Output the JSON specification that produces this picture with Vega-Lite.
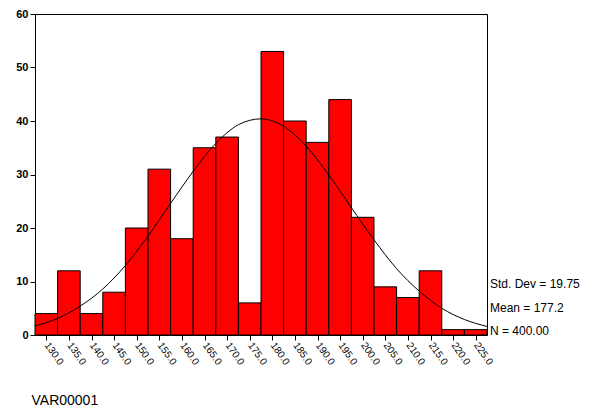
{
  "$schema": "https://vega.github.io/schema/vega-lite/v6.json",
  "width": 452,
  "height": 321,
  "autosize": "none",
  "padding": {"left": 35, "top": 14, "right": 112, "bottom": 75},
  "config": {
    "font": "Liberation Sans",
    "view": {"stroke": "black", "strokeWidth": 1},
    "axis": {"grid": false, "domainColor": "black", "tickColor": "black", "labelColor": "black", "labelFontSize": 11}
  },
  "datasets": {
    "bins": [
      {"lo": 127.5, "hi": 132.5, "count": 4},
      {"lo": 132.5, "hi": 137.5, "count": 12},
      {"lo": 137.5, "hi": 142.5, "count": 4},
      {"lo": 142.5, "hi": 147.5, "count": 8},
      {"lo": 147.5, "hi": 152.5, "count": 20},
      {"lo": 152.5, "hi": 157.5, "count": 31},
      {"lo": 157.5, "hi": 162.5, "count": 18},
      {"lo": 162.5, "hi": 167.5, "count": 35},
      {"lo": 167.5, "hi": 172.5, "count": 37},
      {"lo": 172.5, "hi": 177.5, "count": 6},
      {"lo": 177.5, "hi": 182.5, "count": 53},
      {"lo": 182.5, "hi": 187.5, "count": 40},
      {"lo": 187.5, "hi": 192.5, "count": 36},
      {"lo": 192.5, "hi": 197.5, "count": 44},
      {"lo": 197.5, "hi": 202.5, "count": 22},
      {"lo": 202.5, "hi": 207.5, "count": 9},
      {"lo": 207.5, "hi": 212.5, "count": 7},
      {"lo": 212.5, "hi": 217.5, "count": 12},
      {"lo": 217.5, "hi": 222.5, "count": 1},
      {"lo": 222.5, "hi": 227.5, "count": 1}
    ],
    "curve": [
      {"x": 127.5, "y": 1.7}, {"x": 132.5, "y": 3.1}, {"x": 137.5, "y": 5.4},
      {"x": 142.5, "y": 8.6}, {"x": 147.5, "y": 13.0}, {"x": 152.5, "y": 18.5},
      {"x": 157.5, "y": 24.6}, {"x": 162.5, "y": 30.6}, {"x": 167.5, "y": 35.8},
      {"x": 172.5, "y": 39.3}, {"x": 177.5, "y": 40.4}, {"x": 182.5, "y": 39.0},
      {"x": 187.5, "y": 35.3}, {"x": 192.5, "y": 29.9}, {"x": 197.5, "y": 23.8},
      {"x": 202.5, "y": 17.8}, {"x": 207.5, "y": 12.4}, {"x": 212.5, "y": 8.2},
      {"x": 217.5, "y": 5.0}, {"x": 222.5, "y": 2.9}, {"x": 227.5, "y": 1.6}
    ],
    "stats": [
      {"x": 227.5, "y": 9.5, "label": "Std. Dev = 19.75"},
      {"x": 227.5, "y": 5, "label": "Mean = 177.2"},
      {"x": 227.5, "y": 0.7, "label": "N = 400.00"}
    ]
  },
  "layer": [
    {
      "data": {"name": "bins"},
      "mark": {"type": "bar", "fill": "#ff0000", "stroke": "black", "strokeWidth": 1},
      "encoding": {
        "x": {
          "field": "lo", "type": "quantitative",
          "scale": {"domain": [127.5, 227.5], "nice": false, "zero": false},
          "axis": {
            "values": [130,135,140,145,150,155,160,165,170,175,180,185,190,195,200,205,210,215,220,225],
            "tickCount": 20,
            "format": ".1f", "labelAngle": 55, "labelAlign": "left", "labelBaseline": "middle",
            "labelFontSize": 10, "labelPadding": 3, "labelOverlap": false, "labelBound": false, "labelSeparation": 0,
            "title": "VAR00001", "titleFontSize": 14, "titleFontWeight": "normal",
            "titleAnchor": "start", "titleAlign": "left", "titleBaseline": "bottom", "titleX": -4, "titleY": 72
          }
        },
        "x2": {"field": "hi"},
        "y": {
          "field": "count", "type": "quantitative",
          "scale": {"domain": [0, 60], "nice": false},
          "axis": {"values": [0,10,20,30,40,50,60], "title": null, "labelFontWeight": "bold"}
        },
        "y2": {"datum": 0}
      }
    },
    {
      "data": {"name": "curve"},
      "mark": {"type": "line", "color": "black", "strokeWidth": 1, "interpolate": "monotone"},
      "encoding": {
        "x": {"field": "x", "type": "quantitative"},
        "y": {"field": "y", "type": "quantitative"}
      }
    },
    {
      "data": {"name": "stats"},
      "mark": {"type": "text", "align": "left", "dx": 3, "fontSize": 12, "color": "black"},
      "encoding": {
        "x": {"field": "x", "type": "quantitative"},
        "y": {"field": "y", "type": "quantitative"},
        "text": {"field": "label"}
      }
    }
  ]
}
